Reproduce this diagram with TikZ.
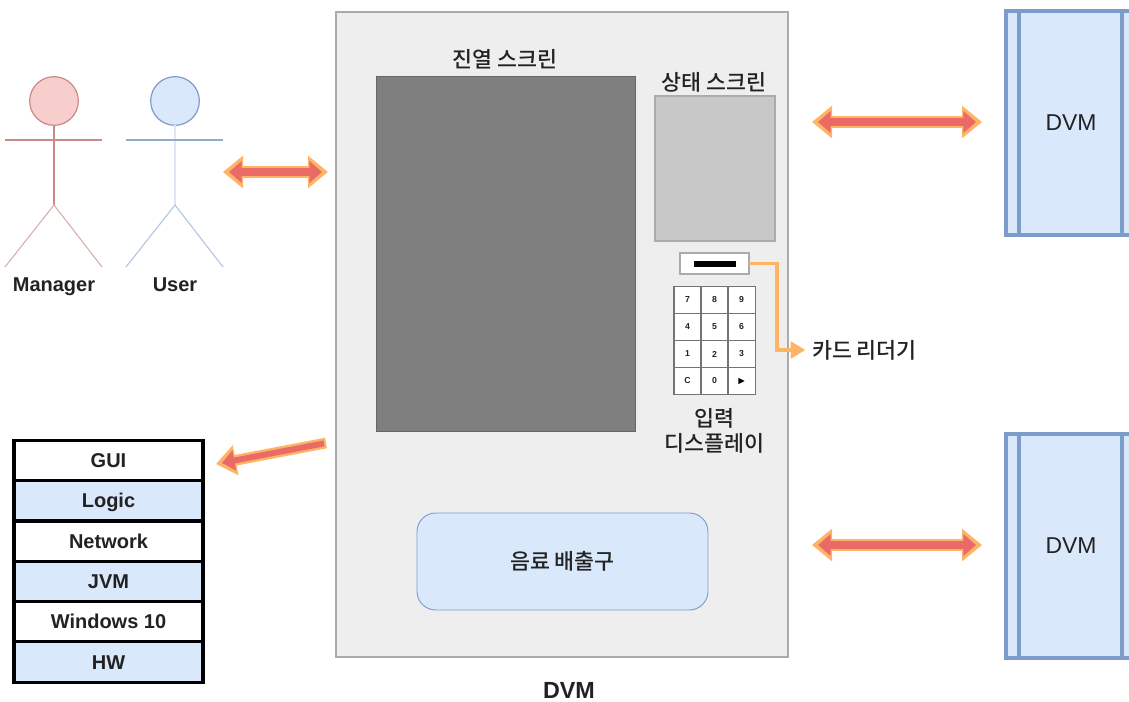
\documentclass[tikz,border=0pt]{standalone}
\usepackage{fontspec}
\setmainfont{Liberation Sans}
\newfontfamily\krfont[BoldFont={Noto Sans CJK KR Medium}]{Noto Sans CJK KR}
\usetikzlibrary{arrows.meta}
\definecolor{panelgray}{HTML}{EEEEEE}
\definecolor{panelline}{HTML}{ABABAB}
\definecolor{screendark}{HTML}{7F7F7F}
\definecolor{screenlight}{HTML}{C8C8C8}
\definecolor{bluefill}{HTML}{DAE8FC}
\definecolor{blueline}{HTML}{7C9CC9}
\definecolor{redfill}{HTML}{F8CECC}
\definecolor{redline}{HTML}{C98A88}
\definecolor{arrowout}{HTML}{FFB366}
\definecolor{arrowin}{HTML}{EA6B66}
\definecolor{textdark}{HTML}{222222}
\tikzset{
  x=0.75pt,y=-0.75pt,
  every node/.style={inner sep=0pt,outer sep=0pt,text=textdark},
  boldlabel/.style={font=\fontsize{15pt}{17pt}\selectfont\bfseries,text height=10.8pt,text depth=0pt},
  krlabel/.style={font=\fontsize{16.3pt}{18.8pt}\krfont\bfseries,align=center},
  keylabel/.style={font=\fontsize{6.5pt}{8pt}\selectfont\bfseries},
  shaftout/.style={draw=arrowout,line width=9.4pt,{Triangle[length=15pt,width=23.5pt]}-{Triangle[length=15pt,width=23.5pt]}},
  shaftin/.style={draw=arrowin,line width=5.4pt,shorten <=4.5pt,shorten >=4.5pt,{Triangle[length=9.5pt,width=16pt]}-{Triangle[length=9.5pt,width=16pt]}},
  oneout/.style={draw=arrowout,line width=8pt,-{Triangle[length=15pt,width=22pt]}},
  onein/.style={draw=arrowin,line width=4.4pt,shorten <=1.5pt,shorten >=4.5pt,-{Triangle[length=9.5pt,width=15pt]}},
  stackrow/.style={draw=black,line width=2.3pt,minimum width=141.75pt,minimum height=30.2pt,boldlabel,anchor=center},
  keycell/.style={draw=black!55,line width=0.8pt,fill=white,minimum width=20.3pt,minimum height=20.2pt,keylabel},
  redstick/.style={draw=redline,line width=0.9pt},
  dvmline/.style={draw=blueline,line width=2.3pt},
}
\begin{document}
\begin{tikzpicture}
\useasboundingbox (0,0) rectangle (1129,702);
\fill[white] (0,0) rectangle (1129,702);

% main machine
\node[draw=panelline,line width=.8pt,fill=panelgray,minimum width=339pt,minimum height=483.75pt] (machine) at (562,334.5) {};
\node[draw=black!60,line width=.6pt,fill=screendark,minimum width=194.25pt,minimum height=266.25pt] (display) at (505.5,253.5) {};
\node[draw=panelline,line width=.8pt,fill=screenlight,minimum width=90pt,minimum height=108.75pt] (status) at (715,168.5) {};
\node[draw=blueline,line width=.7pt,fill=bluefill,rounded corners=14pt,minimum width=218.25pt,minimum height=72.75pt,krlabel] (outlet) at (562.5,561.5) {음료 배출구};
\node[krlabel] (lbldisplay) at (505,59) {진열 스크린};
\node[krlabel] (lblstatus) at (714,82) {상태 스크린};
\node[boldlabel,font=\fontsize{17.5pt}{20pt}\selectfont\bfseries] (lblmachine) at (569,691) {DVM};

% card reader
\node[draw=panelline,line width=.8pt,fill=white,minimum width=51.75pt,minimum height=15.75pt] (reader) at (714.5,263.5) {};
\node[fill=black,minimum width=31.5pt,minimum height=4.5pt] (slot) at (715,264) {};
\node[krlabel,anchor=west] (lblreader) at (812,350) {카드 리더기};
\draw[draw=arrowout,line width=2.6pt,shorten >=5pt,-{Triangle[length=11pt,width=12.5pt]}] (reader.east) -- (777,263.5) |- (lblreader.west);

% keypad
\foreach \lab [count=\i from 0] in {7,8,9,4,5,6,1,2,3,C,0,\raisebox{0pt}{\tikz[x=1pt,y=1pt]\fill[black] (0,0)--(0,4.6)--(4.6,2.3)--cycle;}}{
  \pgfmathtruncatemacro{\cc}{mod(\i,3)}
  \pgfmathtruncatemacro{\rr}{int(\i/3)}
  \node[keycell] (key\i) at ({687.5+27*\cc},{300+27*\rr}) {\lab};
}
\node[krlabel] (lblkeypad) at (714.5,431) {입력\\디스플레이};

% actors
\node[circle,draw=redline,line width=.9pt,fill=redfill,minimum size=36.5pt] (mhead) at (54,101) {};
\coordinate (mhip) at (54,205);
\draw[redstick] (mhead.south) -- (mhip) (5,140) -- (102,140);
\draw[draw=redline!70,line width=.8pt] (5,267) -- (mhip) -- (102,267);
\node[boldlabel] (lblmanager) at (54,284) {Manager};
\node[circle,draw=blueline,line width=.9pt,fill=bluefill,minimum size=36.5pt] (uhead) at (175,101) {};
\coordinate (uhip) at (175,205);
\draw[draw=blueline!25,line width=1.1pt] (uhead.south) -- (uhip);
\draw[draw=blueline!85,line width=.8pt] (126,140) -- (223,140);
\draw[draw=blueline!60,line width=.8pt] (126,267) -- (uhip) -- (223,267);
\node[boldlabel] (lbluser) at (175,284) {User};

% layer stack
\foreach \lab/\fillc [count=\i from 0] in {GUI/white,Logic/bluefill,Network/white,JVM/bluefill,Windows 10/white,HW/bluefill}{
  \node[stackrow,fill=\fillc] (layer\i) at (108.5,{460.5+40.3*\i}) {\lab};
}

% peer machines
\fill[bluefill] (1006,11) rectangle (1129,235);
\draw[dvmline] (1129,11) -- (1006,11) -- (1006,235) -- (1129,235) (1019,11) -- (1019,235) (1122,11) -- (1122,235);
\node[font=\fontsize{17.2pt}{20pt}\selectfont] (dvmtop) at (1071,123) {DVM};
\fill[bluefill] (1006,434) rectangle (1129,658);
\draw[dvmline] (1129,434) -- (1006,434) -- (1006,658) -- (1129,658) (1019,434) -- (1019,658) (1122,434) -- (1122,658);
\node[font=\fontsize{17.2pt}{20pt}\selectfont] (dvmbot) at (1071,546) {DVM};

% block arrows
\coordinate (aL) at (223,172); \coordinate (aR) at (328,172);
\coordinate (bL) at (812,122); \coordinate (bR) at (982,122);
\coordinate (cL) at (812,545); \coordinate (cR) at (982,545);
\coordinate (dA) at (326,443); \coordinate (dB) at (216,464);
\foreach \p/\q in {aL/aR,bL/bR,cL/cR}{
  \draw[shaftout] (\p) -- (\q);
  \draw[shaftin] (\p) -- (\q);
}
\draw[oneout] (dA) -- (dB);
\draw[onein] (dA) -- (dB);
\end{tikzpicture}
\end{document}
